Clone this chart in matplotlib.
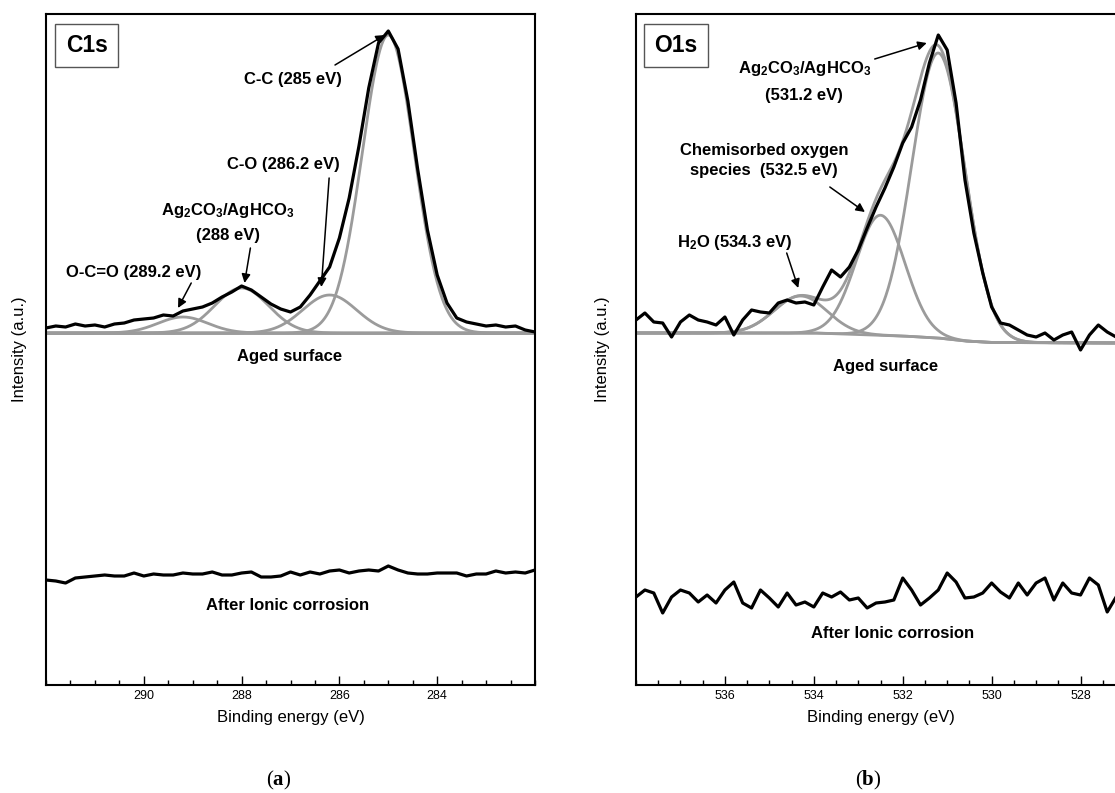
import numpy as np
import matplotlib.pyplot as plt
from matplotlib.ticker import FixedLocator, MultipleLocator

plt.rcParams['font.family'] = ['Liberation Sans', 'DejaVu Sans']
plt.rcParams['mathtext.fontset'] = 'custom'
plt.rcParams['mathtext.default'] = 'regular'
plt.rcParams['mathtext.bf'] = 'Liberation Serif:bold'

#================================== C1s ==========================================#
c1s_start, c1s_stop = 292.0, 282.0      # 0.2 eV steps
c1s_aged = [305, 307, 306, 309, 307, 308, 306, 309, 310, 313,
            314, 315, 318, 317, 322, 324, 326, 330, 336, 341,
            347, 343, 336, 329, 324, 321, 326, 338, 352, 366,
            395, 435, 487, 545, 590, 602, 584, 532, 464, 403,
            358, 330, 315, 311, 309, 307, 308, 306, 307, 303, 301]
c1s_corroded = [53, 52, 50, 55, 56, 57, 58, 57, 57, 60,
                57, 59, 58, 58, 60, 59, 59, 61, 58, 58,
                60, 61, 56, 56, 57, 61, 58, 61, 59, 62,
                63, 60, 62, 63, 62, 67, 63, 60, 59, 59,
                60, 60, 60, 57, 59, 59, 62, 60, 61, 60, 63]
c1s_base = 300
# fitted components: O-C=O, Ag2CO3/AgHCO3, C-O, C-C
c1s_centers = [289.2, 288.0, 286.2, 285.0]
c1s_heights = [16, 45, 38, 298]
c1s_fwhm = [1.2, 1.3, 1.3, 1.25]

#================================== O1s ==========================================#
o1s_start, o1s_stop = 538.0, 527.0      # 0.2 eV steps
o1s_aged = [313, 320, 311, 310, 296, 311, 318, 313, 311, 308,
            316, 298, 313, 323, 321, 320, 330, 333, 330, 331,
            328, 346, 363, 356, 366, 383, 405, 426, 445, 466,
            490, 506, 533, 570, 598, 583, 530, 453, 400, 360,
            326, 310, 308, 303, 298, 296, 300, 293, 298, 301,
            283, 298, 308, 301, 296, 305]
o1s_corroded = [36, 43, 40, 20, 36, 43, 40, 31, 38, 30,
                43, 51, 30, 25, 43, 35, 26, 40, 28, 31,
                26, 40, 36, 41, 33, 35, 25, 30, 31, 33,
                55, 43, 28, 35, 43, 60, 51, 35, 36, 40,
                50, 41, 35, 50, 38, 50, 55, 33, 50, 40,
                38, 55, 48, 21, 36, 43]
# Shirley background nodes
o1s_bg_e = [538.0, 534.0, 533.0, 532.0, 531.2, 530.6, 530.0, 527.0]
o1s_bg = [300, 300, 298.5, 297, 295, 292, 290.5, 290]
# fitted components: H2O, chemisorbed O, Ag2CO3/AgHCO3
o1s_centers = [534.3, 532.5, 531.2]
o1s_heights = [37, 120, 285]
o1s_fwhm = [1.4, 1.3, 1.4]

GRAY = '#9b9b9b'


def gauss(e, c, h, w):
    return h * np.exp(-4 * np.log(2) * (e - c) ** 2 / w ** 2)


def setup(ax, lim, majors):
    ax.set_xlim(lim)
    ax.set_ylim(-52, 619)
    ax.xaxis.set_major_locator(FixedLocator(majors))
    ax.xaxis.set_minor_locator(MultipleLocator(0.5))
    ax.tick_params(axis='x', which='both', direction='in', top=False, labelsize=9, width=1)
    ax.tick_params(axis='x', which='major', length=6.5)
    ax.tick_params(axis='x', which='minor', length=3.5)
    ax.set_yticks([])
    for s in ax.spines.values():
        s.set_linewidth(1.5)
    ax.set_xlabel('Binding energy (eV)', fontsize=12, labelpad=6)
    ax.set_ylabel('Intensity (a.u.)', fontsize=12)


def note(ax, xy, xytext):
    ax.annotate('', xy=xy, xytext=xytext,
                arrowprops=dict(arrowstyle='-|>', color='k', lw=1.1, mutation_scale=13,
                                shrinkA=0, shrinkB=0))


fig = plt.figure(figsize=(11.15, 7.93), dpi=100)
ax1 = fig.add_axes([46 / 1115, 108 / 793, 489 / 1115, 671 / 793])
ax2 = fig.add_axes([636 / 1115, 108 / 793, 489 / 1115, 671 / 793])

bold = dict(fontsize=12, fontweight='bold', ha='center')

# ---- (a) C1s ----
e1 = np.linspace(c1s_start, c1s_stop, len(c1s_aged))
e1c = np.linspace(c1s_start, c1s_stop, len(c1s_corroded))
ef1 = np.linspace(c1s_start, c1s_stop, 600)
ax1.plot(ef1, np.full_like(ef1, c1s_base), color=GRAY, lw=2)
for c, h, w in zip(c1s_centers, c1s_heights, c1s_fwhm):
    ax1.plot(ef1, c1s_base + gauss(ef1, c, h, w), color=GRAY, lw=2)
ax1.plot(e1, c1s_aged, color='k', lw=2.3)
ax1.plot(e1c, c1s_corroded, color='k', lw=2.3)
setup(ax1, (c1s_start, c1s_stop), [290, 288, 286, 284])
ax1.yaxis.set_label_coords(-0.039, 0.5)

ax1.text(0.083, 0.953, 'C1s', transform=ax1.transAxes, fontsize=16.5, fontweight='bold',
         ha='center', va='center',
         bbox=dict(boxstyle='square,pad=0.45', fc='white', ec='#555555', lw=1))
ax1.text(286.95, 549, 'C-C (285 eV)', va='baseline', **bold)
note(ax1, (285.07, 598), (286.09, 568))
ax1.text(287.15, 464, 'C-O (286.2 eV)', va='baseline', **bold)
note(ax1, (286.37, 346), (286.21, 455))
ax1.text(288.28, 418, r'Ag$_2$CO$_3$/AgHCO$_3$', va='baseline', **bold)
ax1.text(288.28, 393, '(288 eV)', va='baseline', **bold)
note(ax1, (287.94, 350), (287.82, 385))
ax1.text(290.21, 356, 'O-C=O (289.2 eV)', va='baseline', **bold)
note(ax1, (289.30, 325), (289.03, 350))
ax1.text(287.02, 276, 'Aged surface', va='center', **bold)
ax1.text(287.06, 28, 'After Ionic corrosion', va='center', **bold)

# ---- (b) O1s ----
e2 = np.linspace(o1s_start, o1s_stop, len(o1s_aged))
e2c = np.linspace(o1s_start, o1s_stop, len(o1s_corroded))
ef2 = np.linspace(o1s_start, o1s_stop, 600)
bg2 = np.interp(ef2[::-1], o1s_bg_e[::-1], o1s_bg[::-1])[::-1]
ax2.plot(ef2, bg2, color=GRAY, lw=2)
total = np.zeros_like(ef2)
for c, h, w in zip(o1s_centers, o1s_heights, o1s_fwhm):
    g = gauss(ef2, c, h, w)
    total += g
    ax2.plot(ef2, bg2 + g, color=GRAY, lw=2)
ax2.plot(ef2, bg2 + total, color=GRAY, lw=2)
ax2.plot(e2, o1s_aged, color='k', lw=2.3)
ax2.plot(e2c, o1s_corroded, color='k', lw=2.3)
setup(ax2, (o1s_start, o1s_stop), [536, 534, 532, 530, 528])
ax2.yaxis.set_label_coords(-0.053, 0.5)

ax2.text(0.082, 0.953, 'O1s', transform=ax2.transAxes, fontsize=16.5, fontweight='bold',
         ha='center', va='center',
         bbox=dict(boxstyle='square,pad=0.45', fc='white', ec='#555555', lw=1))
ax2.text(534.20, 560, r'Ag$_2$CO$_3$/AgHCO$_3$', va='baseline', **bold)
ax2.text(534.22, 533, '(531.2 eV)', va='baseline', **bold)
note(ax2, (531.46, 590), (532.63, 574))
ax2.text(535.11, 478, 'Chemisorbed oxygen', va='baseline', **bold)
ax2.text(535.12, 458, 'species  (532.5 eV)', va='baseline', **bold)
note(ax2, (532.85, 421), (533.64, 446))
ax2.text(535.78, 386, r'H$_2$O (534.3 eV)', va='baseline', **bold)
note(ax2, (534.35, 345), (534.61, 380))
ax2.text(532.38, 266, 'Aged surface', va='center', **bold)
ax2.text(532.23, -1, 'After Ionic corrosion', va='center', **bold)

fig.text(0.2502, 0.0164, r'($\mathbf{a}$)', family='Liberation Serif', fontsize=15,
         ha='center', va='center')
fig.text(0.7785, 0.0164, r'($\mathbf{b}$)', family='Liberation Serif', fontsize=15,
         ha='center', va='center')

fig.savefig('out.png', dpi=100)
